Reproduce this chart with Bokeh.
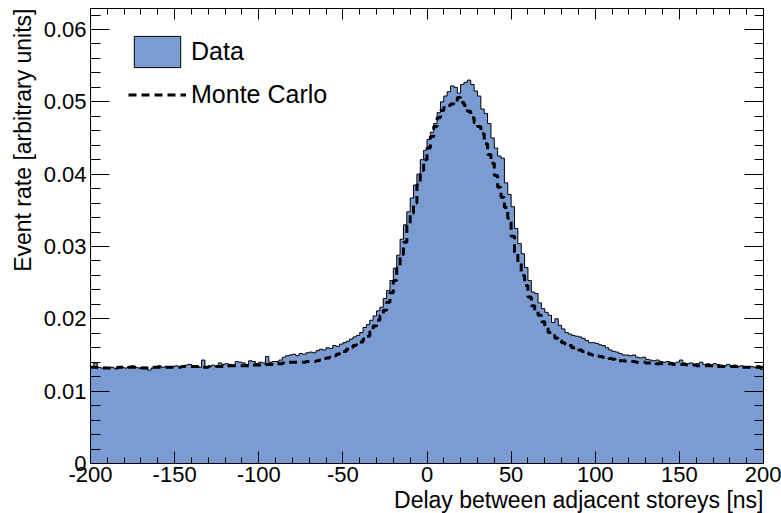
import numpy as np
from bokeh.plotting import figure
from bokeh.models import (Range1d, LinearAxis, FixedTicker, SingleIntervalTicker,
                          Legend, LegendItem, ColumnDataSource, NumeralTickFormatter,
                          Title)
from bokeh.embed import file_html
from bokeh.resources import INLINE
from bokeh.core.properties import value

# ---------------- data ----------------
bin_lo, bin_hi, bin_w = -200, 200, 2

data_rate = [
    0.0134, 0.0139, 0.0133, 0.0132, 0.0133,
    0.0132, 0.0133, 0.0131, 0.0132, 0.0133,
    0.0132, 0.0134, 0.0135, 0.0133, 0.0132,
    0.0133, 0.0133, 0.0129, 0.0132, 0.0134,
    0.0135, 0.0133, 0.0134, 0.0133, 0.0134,
    0.0135, 0.0134, 0.0133, 0.0136, 0.0137,
    0.0135, 0.0134, 0.0133, 0.0143, 0.0133,
    0.0134, 0.0136, 0.0134, 0.0139, 0.0137,
    0.0138, 0.0137, 0.0136, 0.0141, 0.0140,
    0.0139, 0.0137, 0.0142, 0.0141, 0.0138,
    0.0140, 0.0139, 0.0148, 0.0140, 0.0141,
    0.0141, 0.0143, 0.0147, 0.0149, 0.0150,
    0.0151, 0.0149, 0.0152, 0.0151, 0.0153,
    0.0154, 0.0153, 0.0156, 0.0158, 0.0157,
    0.0160, 0.0159, 0.0163, 0.0162, 0.0165,
    0.0167, 0.0169, 0.0172, 0.0175, 0.0177,
    0.0181, 0.0188, 0.0192, 0.0198, 0.0204,
    0.0211, 0.0216, 0.0228, 0.0239, 0.0253,
    0.0270, 0.0288, 0.0310, 0.0330, 0.0348,
    0.0367, 0.0385, 0.0400, 0.0420, 0.0433,
    0.0448, 0.0458, 0.0470, 0.0485, 0.0500,
    0.0508, 0.0514, 0.0522, 0.0520, 0.0512,
    0.0524, 0.0527, 0.0530, 0.0524, 0.0515,
    0.0508, 0.0490, 0.0484, 0.0470, 0.0450,
    0.0436, 0.0425, 0.0422, 0.0388, 0.0372,
    0.0355, 0.0325, 0.0304, 0.0290, 0.0271,
    0.0253, 0.0237, 0.0235, 0.0222, 0.0214,
    0.0209, 0.0205, 0.0195, 0.0200, 0.0191,
    0.0186, 0.0181, 0.0179, 0.0177, 0.0176,
    0.0175, 0.0173, 0.0170, 0.0167, 0.0167,
    0.0166, 0.0164, 0.0163, 0.0160, 0.0157,
    0.0155, 0.0154, 0.0152, 0.0150, 0.0150,
    0.0149, 0.0150, 0.0147, 0.0146, 0.0147,
    0.0144, 0.0143, 0.0142, 0.0143, 0.0141,
    0.0140, 0.0141, 0.0140, 0.0139, 0.0140,
    0.0143, 0.0139, 0.0138, 0.0139, 0.0137,
    0.0138, 0.0140, 0.0137, 0.0138, 0.0136,
    0.0138, 0.0137, 0.0136, 0.0135, 0.0137,
    0.0135, 0.0136, 0.0134, 0.0135, 0.0134,
    0.0133, 0.0134, 0.0133, 0.0135, 0.0130,
]

mc_rate = [
    0.0133, 0.0133, 0.0132, 0.0132, 0.0132,
    0.0132, 0.0132, 0.0132, 0.0133, 0.0133,
    0.0133, 0.0133, 0.0133, 0.0133, 0.0133,
    0.0132, 0.0132, 0.0132, 0.0133, 0.0133,
    0.0133, 0.0133, 0.0133, 0.0133, 0.0133,
    0.0133, 0.0133, 0.0134, 0.0134, 0.0134,
    0.0134, 0.0134, 0.0133, 0.0133, 0.0133,
    0.0134, 0.0134, 0.0134, 0.0134, 0.0134,
    0.0134, 0.0135, 0.0135, 0.0135, 0.0135,
    0.0135, 0.0135, 0.0135, 0.0136, 0.0136,
    0.0136, 0.0136, 0.0137, 0.0137, 0.0137,
    0.0138, 0.0138, 0.0139, 0.0139, 0.0140,
    0.0140, 0.0140, 0.0140, 0.0140, 0.0141,
    0.0141, 0.0141, 0.0142, 0.0143, 0.0145,
    0.0146, 0.0147, 0.0149, 0.0151, 0.0153,
    0.0155, 0.0158, 0.0160, 0.0163, 0.0166,
    0.0168, 0.0172, 0.0176, 0.0182, 0.0190,
    0.0198, 0.0205, 0.0212, 0.0223, 0.0236,
    0.0253, 0.0270, 0.0289, 0.0306, 0.0330,
    0.0346, 0.0360, 0.0385, 0.0405, 0.0420,
    0.0436, 0.0452, 0.0466, 0.0478, 0.0488,
    0.0492, 0.0495, 0.0497, 0.0498, 0.0506,
    0.0499, 0.0495, 0.0487, 0.0478, 0.0471,
    0.0466, 0.0456, 0.0442, 0.0427, 0.0415,
    0.0398, 0.0382, 0.0368, 0.0354, 0.0339,
    0.0314, 0.0292, 0.0277, 0.0260, 0.0246,
    0.0230, 0.0218, 0.0212, 0.0205, 0.0196,
    0.0188, 0.0181, 0.0177, 0.0173, 0.0170,
    0.0167, 0.0165, 0.0163, 0.0160, 0.0159,
    0.0157, 0.0155, 0.0153, 0.0151, 0.0150,
    0.0149, 0.0148, 0.0147, 0.0146, 0.0145,
    0.0144, 0.0143, 0.0142, 0.0142, 0.0141,
    0.0141, 0.0141, 0.0140, 0.0140, 0.0140,
    0.0139, 0.0139, 0.0139, 0.0138, 0.0138,
    0.0138, 0.0138, 0.0138, 0.0137, 0.0137,
    0.0137, 0.0137, 0.0136, 0.0136, 0.0136,
    0.0135, 0.0135, 0.0135, 0.0135, 0.0135,
    0.0135, 0.0134, 0.0134, 0.0134, 0.0134,
    0.0134, 0.0134, 0.0134, 0.0133, 0.0133,
    0.0133, 0.0133, 0.0133, 0.0133, 0.0133,
]

y_ticks = [0, 0.01, 0.02, 0.03, 0.04, 0.05, 0.06]
y_tick_labels = ["0", "0.01", "0.02", "0.03", "0.04", "0.05", "0.06"]
x_major_step = 50
x_title = "Delay between adjacent storeys [ns]"
y_title = "Event rate [arbitrary units]"
legend_labels = ["Data", "Monte Carlo"]
y_max = 0.0629

# ---------------- styling / geometry ----------------
FONT = "Liberation Sans"
FILL = "#7b9bd3"
W, H = 781, 513
BL, BR, BT, BB = 90, 18, 8, 50

edges = np.arange(bin_lo, bin_hi + bin_w / 2, bin_w)
src = ColumnDataSource(dict(
    x=edges,
    data=list(data_rate) + [data_rate[-1]],
    mc=list(mc_rate) + [mc_rate[-1]],
))

p = figure(width=W, height=H, output_backend="svg", toolbar_location=None,
           x_range=Range1d(bin_lo, bin_hi), y_range=Range1d(0, y_max),
           min_border_left=BL, min_border_right=BR, min_border_top=BT,
           min_border_bottom=BB)
p.grid.visible = False
p.outline_line_color = "black"
p.outline_line_width = 1
p.background_fill_color = "white"
p.border_fill_color = "white"

xt = SingleIntervalTicker(interval=x_major_step, num_minor_ticks=5)
yt = FixedTicker(ticks=y_ticks,
                 minor_ticks=[round(v, 4) for v in np.arange(0, y_max, 0.002)])


def style(ax, major, minor, labels=True):
    ax.axis_label = None
    ax.axis_line_color = "black"
    ax.axis_line_width = 1
    ax.major_tick_line_color = "black"
    ax.minor_tick_line_color = "black"
    ax.major_tick_in = major
    ax.major_tick_out = 0
    ax.minor_tick_in = minor
    ax.minor_tick_out = 0
    if labels:
        ax.major_label_text_font = FONT
        ax.major_label_text_font_size = "22px"
        ax.major_label_text_color = "black"
    else:
        ax.major_label_text_font_size = "0px"
        ax.major_label_standoff = 0


bx = p.xaxis[0]
bx.ticker = xt
bx.formatter = NumeralTickFormatter(format="0")
style(bx, 12, 6)
bx.major_label_standoff = 3

ly = p.yaxis[0]
ly.ticker = yt
style(ly, 19, 10)
ly.major_label_standoff = 4
ly.major_label_overrides = dict(zip(y_ticks, y_tick_labels))

top = LinearAxis(ticker=xt)
style(top, 11, 6, labels=False)
p.add_layout(top, "above")
right = LinearAxis(ticker=yt)
style(right, 19, 9, labels=False)
p.add_layout(right, "right")

# axis titles, right-aligned at the axis ends (ROOT style)
p.add_layout(Title(text=x_title, align="right", text_font=FONT,
                   text_font_size="23px", text_font_style="normal",
                   text_color="black", standoff=0), "below")
p.add_layout(Title(text=y_title, align="right", text_font=FONT,
                   text_font_size="23px", text_font_style="normal",
                   text_color="black", standoff=10), "left")

# ---------------- glyphs ----------------
p.varea_step(x="x", y1=0, y2="data", step_mode="after", source=src,
             fill_color=FILL)
p.step(x="x", y="data", mode="after", source=src, line_color="black",
       line_width=1)
r_mc = p.step(x="x", y="mc", mode="after", source=src, line_color="black",
              line_width=3, line_dash="8 5")

# legend proxy: a zero-size box at the histogram's first edge
proxy = ColumnDataSource(dict(left=[bin_lo], right=[bin_lo], top=[0], bottom=[0]))
r_box = p.quad(left="left", right="right", top="top", bottom="bottom",
               source=proxy, fill_color=FILL, line_color="black", line_width=1)

legend = Legend(items=[LegendItem(label=value(legend_labels[0]), renderers=[r_box]),
                       LegendItem(label=value(legend_labels[1]), renderers=[r_mc])],
                location=(38, 349.5), glyph_width=58, glyph_height=39,
                spacing=4, padding=0, margin=0, border_line_color=None,
                background_fill_alpha=0, label_text_font=FONT,
                label_text_color="black",
                label_text_font_size="25px", label_standoff=5)
p.add_layout(legend)

open("out.html", "w").write(file_html(p, INLINE))
